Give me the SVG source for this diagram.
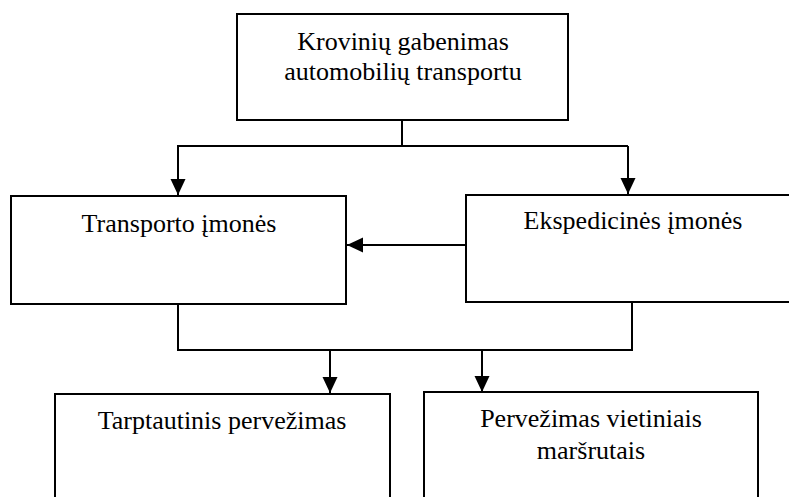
<svg xmlns="http://www.w3.org/2000/svg" width="789" height="497" viewBox="0 0 789 497">
<style>
.box{fill:#fff;stroke:#000;stroke-width:2}
.t{font-family:'Liberation Serif',serif;font-size:26px;fill:#000;text-anchor:middle}
.c{fill:none;stroke:#000;stroke-width:2}
</style>
<defs>
<marker id="ah" markerUnits="userSpaceOnUse" markerWidth="16" markerHeight="16" viewBox="0 0 16 16" refX="16" refY="8" orient="auto">
<path d="M0,0.5 L16,8 L0,15.5 Z" fill="#000"/>
</marker>
</defs>
<rect width="789" height="497" fill="#fff"/>
<g id="connectors">
<path class="c" d="M402,120 V146"/>
<path class="c" d="M177,146 H628"/>
<path class="c" d="M178,146 V195" marker-end="url(#ah)"/>
<path class="c" d="M628,146 V194" marker-end="url(#ah)"/>
<path class="c" d="M466,245 H347" marker-end="url(#ah)"/>
<path class="c" d="M178,304 V350"/>
<path class="c" d="M632,302 V350"/>
<path class="c" d="M177,350 H633"/>
<path class="c" d="M330,350 V393" marker-end="url(#ah)"/>
<path class="c" d="M482,350 V392" marker-end="url(#ah)"/>
</g>
<g id="n-top">
<rect class="box" x="237" y="14" width="331" height="106"/>
<text class="t" x="403" y="50" font-family="Liberation Serif, serif">Krovinių gabenimas</text>
<text class="t" x="403" y="80" font-family="Liberation Serif, serif">automobilių transportu</text>
</g>
<g id="n-transporto">
<rect class="box" x="11" y="196" width="335" height="108"/>
<text class="t" x="179" y="232" font-family="Liberation Serif, serif">Transporto įmonės</text>
</g>
<g id="n-ekspedicines">
<rect class="box" x="466" y="195" width="335" height="107"/>
<text class="t" x="633" y="229" font-family="Liberation Serif, serif">Ekspedicinės įmonės</text>
</g>
<g id="n-tarptautinis">
<rect class="box" x="55" y="394" width="335" height="110"/>
<text class="t" x="222" y="429" font-family="Liberation Serif, serif">Tarptautinis pervežimas</text>
</g>
<g id="n-vietiniais">
<rect class="box" x="424" y="392" width="334" height="112"/>
<text class="t" x="591" y="427" font-family="Liberation Serif, serif">Pervežimas vietiniais</text>
<text class="t" x="591" y="459" font-family="Liberation Serif, serif">maršrutais</text>
</g>
</svg>
